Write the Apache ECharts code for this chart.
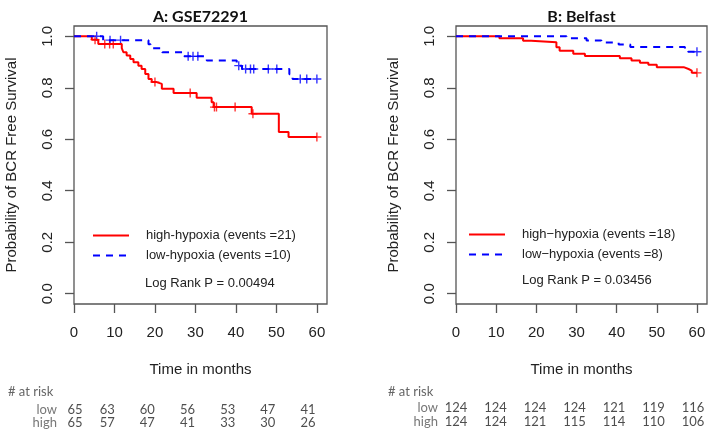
<!DOCTYPE html>
<html><head><meta charset="utf-8">
<script src="https://cdn.jsdelivr.net/npm/echarts@6/dist/echarts.min.js"></script>
<style>html,body{margin:0;padding:0;background:#fff}#c{width:711px;height:432px}</style>
</head><body><div id="c"></div>
<script>
// ---------- data ----------
const xTicks = [0, 10, 20, 30, 40, 50, 60];
const yTicks = [0, 0.2, 0.4, 0.6, 0.8, 1.0];
const yTickLabels = ['0.0', '0.2', '0.4', '0.6', '0.8', '1.0'];

// Panel A: GSE72291  [time (months), survival probability]
const aHighSteps = [[0,1.0],[4.4,0.987],[6.0,0.970],[11.8,0.954],[12.2,0.938],[13.0,0.925],[13.9,0.912],[14.7,0.899],[15.9,0.886],[16.7,0.873],[17.6,0.854],[18.4,0.834],[19.2,0.822],[20.4,0.815],[21.7,0.796],[24.6,0.780],[30.3,0.761],[34.0,0.744],[34.5,0.725],[43.9,0.699],[50.6,0.628],[53.0,0.609],[60,0.609]];
const aHighCensor = [[5.2,0.987],[7.6,0.970],[8.8,0.970],[9.7,0.970],[20.0,0.822],[28.7,0.780],[34.7,0.725],[35.2,0.725],[39.8,0.725],[44.2,0.699],[60,0.609]];
const aLowSteps = [[0,1.0],[7.2,0.985],[18.4,0.969],[18.9,0.954],[21.8,0.938],[27.0,0.922],[32.8,0.906],[40.2,0.886],[41.5,0.873],[53.2,0.853],[54.0,0.834],[60,0.834]];
const aLowCensor = [[5.6,1.0],[8.9,0.985],[11.5,0.985],[28.2,0.922],[29.4,0.922],[30.6,0.922],[40.7,0.886],[42.4,0.873],[43.6,0.873],[44.4,0.873],[48.0,0.873],[50.1,0.873],[55.9,0.834],[57.5,0.834],[60,0.834]];

// Panel B: Belfast
const bHighSteps = [[0,1.0],[10.8,0.992],[16.7,0.983],[18.7,0.977],[25.0,0.957],[25.8,0.944],[29.2,0.932],[32.1,0.923],[40.8,0.915],[43.7,0.906],[45.8,0.897],[47.9,0.889],[50.0,0.880],[56.7,0.873],[57.9,0.867],[58.7,0.858],[60,0.858]];
const bHighCensor = [[60,0.858]];
const bLowSteps = [[0,1.0],[27.5,0.992],[32.5,0.984],[36.2,0.976],[40.5,0.968],[43.4,0.958],[57.0,0.948],[57.8,0.940],[60,0.940]];
const bLowCensor = [[60,0.940]];

// Numbers at risk
const riskTimes = [0, 10, 20, 30, 40, 50, 60];
const riskGroups = ['high', 'low'];
const aRiskLow  = [65, 63, 60, 56, 53, 47, 41];
const aRiskHigh = [65, 57, 47, 41, 33, 30, 26];
const bRiskLow  = [124, 124, 124, 124, 121, 119, 116];
const bRiskHigh = [124, 124, 121, 115, 114, 110, 106];

const aNames = ['high-hypoxia (events =21)', 'low-hypoxia (events =10)'];
const bNames = ['high\u2212hypoxia (events =18)', 'low\u2212hypoxia (events =8)'];

// ---------- styling ----------
const RED = '#ff0000', BLUE = '#0000ff', AX = '#555555';
const SANS = '"Liberation Sans", Arial, sans-serif';
const CAL = 'Lato, "Open Sans", sans-serif';
const cross = 'path://M5,0V10M0,5H10';

function plotX(gi) {
  return {
    type: 'value', gridIndex: gi, min: 0, max: 62.5,
    axisLine: { show: false, onZero: false },
    axisTick: { show: true, length: 9, customValues: xTicks, lineStyle: { color: AX, width: 1.3 } },
    axisLabel: { customValues: xTicks, fontSize: 15, color: '#222', margin: 21, fontFamily: SANS },
    splitLine: { show: false },
    name: 'Time in months', nameLocation: 'middle', nameGap: 58,
    nameTextStyle: { fontSize: 15, color: '#222', fontFamily: SANS }
  };
}
function plotY(gi) {
  return {
    type: 'value', gridIndex: gi, min: -0.04, max: 1.04,
    axisLine: { show: false, onZero: false },
    axisTick: { show: true, length: 9, customValues: yTicks, lineStyle: { color: AX, width: 1.3 } },
    axisLabel: { customValues: yTicks, rotate: 90, fontSize: 15, color: '#222', margin: 19, fontFamily: SANS,
      formatter: v => yTickLabels[yTicks.findIndex(t => Math.abs(t - v) < 1e-6)] },
    splitLine: { show: false },
    name: 'Probability of BCR Free Survival', nameLocation: 'middle', nameGap: 55,
    nameTextStyle: { fontSize: 15, color: '#222', fontFamily: SANS }
  };
}
function tableX(gi) {
  return { type: 'value', gridIndex: gi, min: 0, max: 60, show: false };
}
function tableY(gi, margin) {
  return { type: 'category', gridIndex: gi, data: riskGroups,
    axisLine: { show: false }, axisTick: { show: false }, splitLine: { show: false },
    axisLabel: { interval: 0, color: '#777', fontSize: 13, fontFamily: CAL, margin: margin } };
}
function stepLine(name, data, xi, color, dashed) {
  return { type: 'line', name: name, data: data, step: 'end', xAxisIndex: xi, yAxisIndex: xi,
    symbol: 'none', color: color, silent: true, animation: false,
    lineStyle: { color: color, width: 2, type: dashed ? [7, 6] : 'solid' } };
}
function censor(data, xi, color) {
  return { type: 'scatter', data: data, xAxisIndex: xi, yAxisIndex: xi, symbol: cross, symbolSize: 9,
    silent: true, animation: false,
    itemStyle: { color: 'transparent', borderColor: color, borderWidth: 1.4 } };
}
function riskSeries(vals, group, xi, firstOffset) {
  return { type: 'scatter', xAxisIndex: xi, yAxisIndex: xi, symbolSize: 1, silent: true, animation: false,
    itemStyle: { color: 'transparent' },
    data: riskTimes.map((t, i) => ({ value: [t, group, vals[i]],
      label: i === 0 && firstOffset ? { offset: [firstOffset, 0] } : undefined })),
    label: { show: true, position: 'inside', formatter: p => String(p.value[2]),
      color: '#222', fontSize: 13, fontFamily: CAL } };
}
function legend(left, top, names) {
  return { data: names, left: left, top: top, orient: 'vertical', itemWidth: 36, itemHeight: 16, itemGap: 7,
    selectedMode: false, padding: 0, itemStyle: { opacity: 0 },
    textStyle: { fontSize: 13, color: '#222', fontFamily: SANS, padding: [0, 0, 0, 12] } };
}
function txt(x, y, text, font, color, align) {
  return { type: 'text', x: x, y: y, silent: true,
    style: { text: text, font: font, fill: color, align: align || 'left', verticalAlign: 'middle' } };
}

const option = {
  backgroundColor: '#fff',
  animation: false,
  grid: [
    { left: 74, top: 26, width: 253, height: 278, show: true, borderColor: AX, borderWidth: 1.3, backgroundColor: 'transparent' },
    { left: 456, top: 26, width: 251, height: 278, show: true, borderColor: AX, borderWidth: 1.3, backgroundColor: 'transparent' },
    { left: 67, top: 403, width: 241, height: 27 },
    { left: 456, top: 401, width: 237, height: 28 }
  ],
  xAxis: [plotX(0), plotX(1), tableX(2), tableX(3)],
  yAxis: [plotY(0), plotY(1), tableY(2, 10), tableY(3, 18)],
  legend: [legend(92, 229, aNames), legend(468, 228, bNames)],
  series: [
    stepLine(aNames[0], aHighSteps, 0, RED, false),
    stepLine(aNames[1], aLowSteps, 0, BLUE, true),
    censor(aHighCensor, 0, RED),
    censor(aLowCensor, 0, BLUE),
    stepLine(bNames[0], bHighSteps, 1, RED, false),
    stepLine(bNames[1], bLowSteps, 1, BLUE, true),
    censor(bHighCensor, 1, RED),
    censor(bLowCensor, 1, BLUE),
    riskSeries(aRiskLow, 'low', 2, 8),
    riskSeries(aRiskHigh, 'high', 2, 8),
    riskSeries(bRiskLow, 'low', 3, 0),
    riskSeries(bRiskHigh, 'high', 3, 0)
  ],
  graphic: [
    txt(200.5, 17, 'A: GSE72291', 'bold 16px ' + CAL, '#111', 'center'),
    txt(581.5, 17, 'B: Belfast', 'bold 16px ' + CAL, '#111', 'center'),
    txt(145, 283, 'Log Rank P = 0.00494', '13px ' + SANS, '#222'),
    txt(522, 280, 'Log Rank P = 0.03456', '13px ' + SANS, '#222'),
    txt(8, 392, '# at risk', '13px ' + CAL, '#666'),
    txt(388, 392, '# at risk', '13px ' + CAL, '#666')
  ]
};
const chart = echarts.init(document.getElementById('c'), null, { renderer: 'canvas' });
chart.setOption(option);
</script>
</body></html>
